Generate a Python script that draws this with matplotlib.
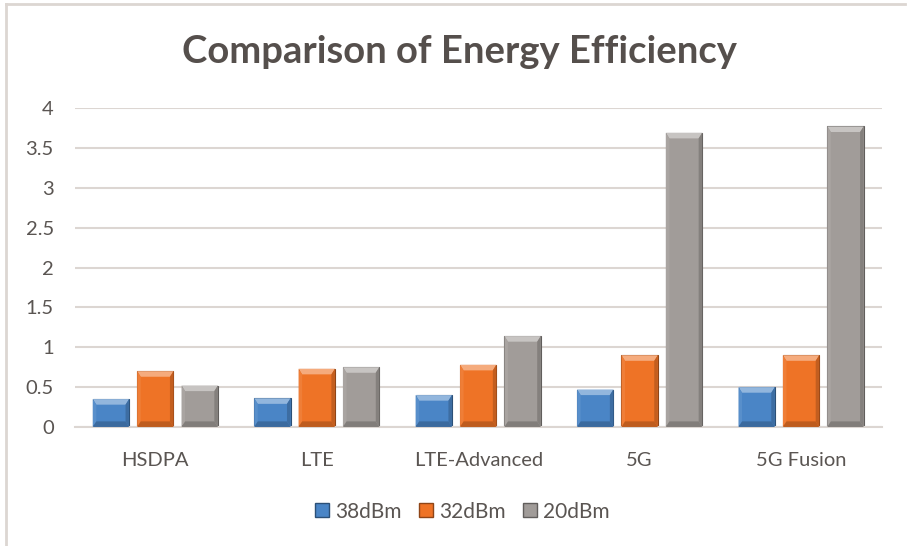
#!/usr/bin/env python3
"""
Comparison of Energy Efficiency - grouped bar chart with bevelled bars
"""
import numpy as np
import matplotlib.pyplot as plt
from matplotlib.patches import Polygon
from matplotlib.lines import Line2D
import matplotlib.colors as mcolors

categories = ['HSDPA', 'LTE', 'LTE-Advanced', '5G', '5G Fusion']
series_names = ['38dBm', '32dBm', '20dBm']
vals_38 = [0.35, 0.36, 0.40, 0.47, 0.50]
vals_32 = [0.70, 0.73, 0.78, 0.90, 0.90]
vals_20 = [0.52, 0.75, 1.14, 3.69, 3.77]
yticks = [0, 0.5, 1, 1.5, 2, 2.5, 3, 3.5, 4]
ytick_labels = ['0', '0.5', '1', '1.5', '2', '2.5', '3', '3.5', '4']

colors = ['#4a85c6', '#ee7326', '#a19c99']
text_col = '#5a5552'
grid_col = '#dcd6d2'

plt.rcParams['font.family'] = ['Lato', 'DejaVu Sans']

fig = plt.figure(figsize=(9.1, 5.46), dpi=100)
ax = fig.add_axes([0.082, 0.218, 0.887, 0.584])


def shade(c, f):
    r, g, b = mcolors.to_rgb(c)
    if f >= 0:
        return (r + (1 - r) * f, g + (1 - g) * f, b + (1 - b) * f)
    return (r * (1 + f), g * (1 + f), b * (1 + f))


def bevel(ax, rect, color):
    # thin bevel on top of a bar patch, sizes taken from its own geometry
    x0 = rect.get_x()
    w = rect.get_width()
    h = rect.get_height()
    x1 = x0 + w
    dx = 0.022
    dy = min(0.07, h / 2)
    ix0, ix1 = x0 + dx, x1 - dx
    top, bot = h, 0
    it, ib = h - dy, dy
    faces = [
        ([(x0, top), (x1, top), (ix1, it), (ix0, it)], shade(color, 0.4)),
        ([(x0, bot), (ix0, ib), (ix0, it), (x0, top)], shade(color, 0.08)),
        ([(x1, bot), (x1, top), (ix1, it), (ix1, ib)], shade(color, -0.18)),
        ([(x0, bot), (x1, bot), (ix1, ib), (ix0, ib)], shade(color, -0.2)),
    ]
    for pts, fc in faces:
        ax.add_patch(Polygon(pts, closed=True, facecolor=fc, edgecolor='none', zorder=3))


x = np.arange(len(categories))
width = 0.225
offset = 0.275
for i, (vals, name) in enumerate(zip([vals_38, vals_32, vals_20], series_names)):
    bars = ax.bar(x + (i - 1) * offset, vals, width, color=colors[i],
                  edgecolor=shade(colors[i], -0.4), linewidth=0.8, zorder=2, label=name)
    for b in bars:
        bevel(ax, b, colors[i])

ax.set_xlim(-0.5, len(categories) - 0.5)
ax.set_ylim(0, 4)
ax.set_yticks(yticks)
ax.set_yticklabels(ytick_labels)
ax.set_xticks(x)
ax.set_xticklabels(categories)
ax.yaxis.grid(True, color=grid_col, linewidth=1.5, zorder=0)
ax.set_axisbelow(True)
for s in ['top', 'right', 'left']:
    ax.spines[s].set_visible(False)
ax.spines['bottom'].set_color(grid_col)
ax.spines['bottom'].set_linewidth(1.5)
ax.tick_params(axis='both', length=0, labelsize=14.5, labelcolor=text_col)
ax.tick_params(axis='y', pad=15)
ax.tick_params(axis='x', pad=18)

fig.text(0.505, 0.905, 'Comparison of Energy Efficiency', ha='center', va='center',
         fontsize=27.5, fontweight='bold', color='#554f4c')

handles = [Line2D([], [], marker='s', linestyle='none', markersize=10,
                  markerfacecolor=c, markeredgecolor=shade(c, -0.4)) for c in colors]
fig.legend(handles, series_names, loc='center', bbox_to_anchor=(0.505, 0.063), ncol=3,
           frameon=False, fontsize=15, labelcolor=text_col, handletextpad=0.05,
           columnspacing=0.55, handlelength=1.2)

# outer chart border (top and left visible)
fig.add_artist(Line2D([0.007, 0.995], [0.992, 0.992], color='#dcd6d2', linewidth=2,
                      transform=fig.transFigure))
fig.add_artist(Line2D([0.007, 0.007], [0.0, 0.992], color='#dcd6d2', linewidth=2,
                      transform=fig.transFigure))

plt.savefig('out.png', dpi=100)
